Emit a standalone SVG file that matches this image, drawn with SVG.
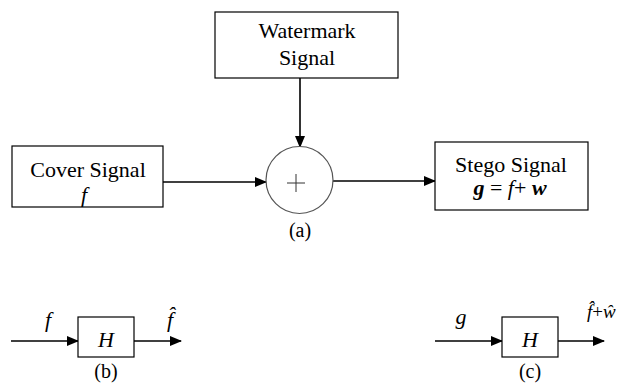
<svg xmlns="http://www.w3.org/2000/svg" width="628" height="387" viewBox="0 0 628 387">
<style>
.box{fill:#fff;stroke:#000;stroke-width:1.2}
.t{font-family:"Liberation Serif","Times New Roman",serif;font-size:22px;fill:#000;text-anchor:middle}
.s{text-anchor:start}
.i{font-style:italic}
.b{font-weight:bold}
.ln{stroke:#000;stroke-width:1.6;fill:none}
</style>
<defs>
<marker id="ah" markerWidth="12" markerHeight="10" refX="11" refY="5" orient="auto" markerUnits="userSpaceOnUse">
<path d="M0,0 L12,5 L0,10 Z" fill="#000"/>
</marker>
</defs>
<rect width="628" height="387" fill="#fff"/>
<g id="connectors">
<line class="ln" x1="300" y1="78" x2="300" y2="147" marker-end="url(#ah)"/>
<line class="ln" x1="163" y1="182" x2="266" y2="182" marker-end="url(#ah)"/>
<line class="ln" x1="333" y1="181" x2="435" y2="181" marker-end="url(#ah)"/>
<line class="ln" x1="11" y1="341" x2="78" y2="341" marker-end="url(#ah)"/>
<line class="ln" x1="134" y1="341" x2="181" y2="341" marker-end="url(#ah)"/>
<line class="ln" x1="435" y1="341" x2="502" y2="341" marker-end="url(#ah)"/>
<line class="ln" x1="558" y1="341" x2="604" y2="341" marker-end="url(#ah)"/>
</g>
<g id="watermark">
<rect class="box" x="215" y="12" width="183" height="66"/>
<text class="t" x="307" y="38">Watermark</text>
<text class="t" x="307" y="65">Signal</text>
</g>
<g id="cover">
<rect class="box" x="12" y="146" width="151" height="61"/>
<text class="t" x="88" y="177">Cover Signal</text>
<text class="t i" x="84" y="202">f</text>
</g>
<g id="adder">
<circle cx="299.5" cy="180" r="33.5" fill="#fff" stroke="#555" stroke-width="1.2"/>
<line x1="287" y1="183" x2="305" y2="183" stroke="#333" stroke-width="1"/>
<line x1="296" y1="174" x2="296" y2="192" stroke="#333" stroke-width="1"/>
<text class="t" x="300" y="237" style="font-size:20px">(a)</text>
</g>
<g id="stego">
<rect class="box" x="435" y="142" width="153" height="68"/>
<text class="t" x="511" y="172">Stego Signal</text>
<text class="t" x="510" y="195"><tspan class="i b">g</tspan> = <tspan class="i">f</tspan>+ <tspan class="i b">w</tspan></text>
</g>
<g id="filter-b">
<rect class="box" x="78" y="317" width="56" height="40"/>
<text class="t i" x="106" y="347">H</text>
<text class="t i" x="48" y="327">f</text>
<text class="t i" x="170" y="327">f̂</text>
<text class="t" x="106" y="378" style="font-size:20px">(b)</text>
</g>
<g id="filter-c">
<rect class="box" x="502" y="317" width="56" height="40"/>
<text class="t i" x="530" y="347">H</text>
<text class="t i" x="461" y="324">g</text>
<text class="t s" x="587" y="318" style="font-size:19px"><tspan class="i">f̂</tspan>+<tspan class="i">ŵ</tspan></text>
<text class="t" x="530" y="378" style="font-size:20px">(c)</text>
</g>
</svg>
